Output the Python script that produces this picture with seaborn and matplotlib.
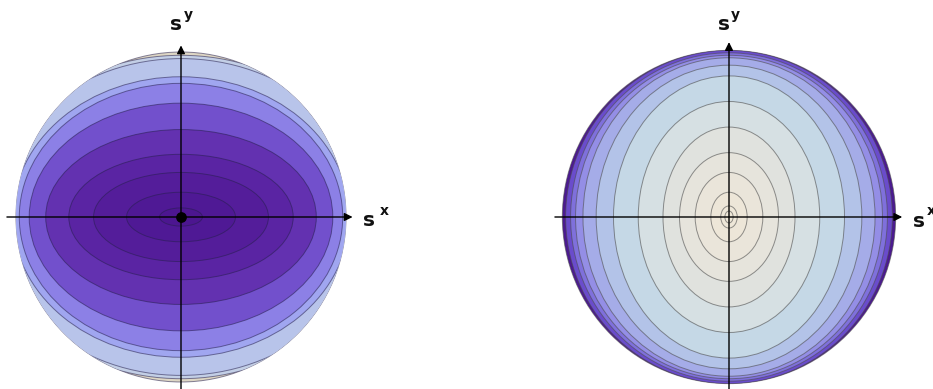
import matplotlib
matplotlib.use("Agg")
import matplotlib.pyplot as plt
from matplotlib.patches import Circle, Ellipse
import seaborn as sns

sns.set_theme(style="white")
plt.rcParams['font.family'] = ['DejaVu Sans']

# contour ellipses (semi-axes, disk radius = 1), outermost first
left_a = [1.18, 1.13, 1.02, 0.98, 0.92, 0.82, 0.68, 0.53, 0.33, 0.13]
left_b = [0.98, 0.96, 0.85, 0.81, 0.69, 0.53, 0.38, 0.27, 0.15, 0.055]
left_colors = ["#c3cfe6", "#b8c4ea", "#a0a6f0", "#8c80e6", "#7250cc",
               "#6331b0", "#5a24a3", "#541d9a", "#4f1995", "#4c1690"]
left_base = "#ddd6c4"

right_a = [0.99, 0.96, 0.93, 0.885, 0.805, 0.70, 0.55, 0.40, 0.30, 0.205, 0.11, 0.05, 0.025]
right_b = [1.01, 0.995, 0.98, 0.965, 0.92, 0.855, 0.70, 0.545, 0.39, 0.27, 0.15, 0.067, 0.036]
right_colors = ["#6a4ccc", "#7f70dc", "#948ee6", "#a5ace8", "#b3c3e8", "#c5d8e6",
                "#d6e0e3", "#e0e2de", "#e6e4dc", "#eae5da", "#ede6d8", "#eee7d8", "#efe8d8"]
right_base = "#4b1a90"

sx_label = ("s", "x")
sy_label = ("s", "y")


def draw_disk(ax, radius, a_list, b_list, colors, base, edge):
    disk = Circle((0, 0), radius, fc=base, ec=edge, lw=0.7, zorder=1)
    ax.add_patch(disk)
    for a, b, c in zip(a_list, b_list, colors):
        e = Ellipse((0, 0), 2 * a, 2 * b, fc=c, ec=edge, lw=0.7, zorder=2)
        ax.add_patch(e)
        e.set_clip_path(disk)


def draw_axes(ax, x0, x1, y0, y1):
    arrow = dict(arrowstyle='-|>', color='black', lw=1.0, mutation_scale=12,
                 shrinkA=0, shrinkB=0)
    ax.annotate("", xy=(x1, 0), xytext=(x0, 0), arrowprops=arrow, zorder=5)
    ax.annotate("", xy=(0, y1), xytext=(0, y0), arrowprops=arrow, zorder=5)


def label(ax, x, y, main, sup, dx, dy):
    ax.text(x, y, main, fontsize=14.5, fontweight='bold', ha='left', va='baseline',
            color='#111111', clip_on=False)
    ax.text(x + dx, y + dy, sup, fontsize=10, fontweight='bold', ha='left',
            va='baseline', color='#111111', clip_on=False)


fig = plt.figure(figsize=(9.33, 3.89), dpi=100)

ax1 = fig.add_axes([0, 0, 400 / 933, 1])
ax1.set_xlim(-181 / 165, 219 / 165)
ax1.set_ylim(-172 / 165, 217 / 165)
draw_disk(ax1, 1.0, left_a, left_b, left_colors, left_base, (0.15, 0.12, 0.3, 0.55))
draw_axes(ax1, -1.055, 1.04, -1.05, 1.04)
ax1.scatter([0], [0], s=45, color='black', zorder=6)
label(ax1, 1.10, -0.055, *sx_label, 0.105, 0.067)
label(ax1, -0.067, 1.133, *sy_label, 0.085, 0.067)
ax1.axis('off')

ax2 = fig.add_axes([530 / 933, 0, 403 / 933, 1])
ax2.set_xlim(-199 / 165, 204 / 165)
ax2.set_ylim(-172 / 165, 217 / 165)
draw_disk(ax2, 1.01, right_a, right_b, right_colors, right_base, (0.3, 0.3, 0.3, 0.6))
draw_axes(ax2, -1.055, 1.05, -1.05, 1.06)
label(ax2, 1.115, -0.06, *sx_label, 0.085, 0.072)
label(ax2, -0.067, 1.133, *sy_label, 0.08, 0.067)
ax2.axis('off')

fig.savefig("out.png", dpi=100)
